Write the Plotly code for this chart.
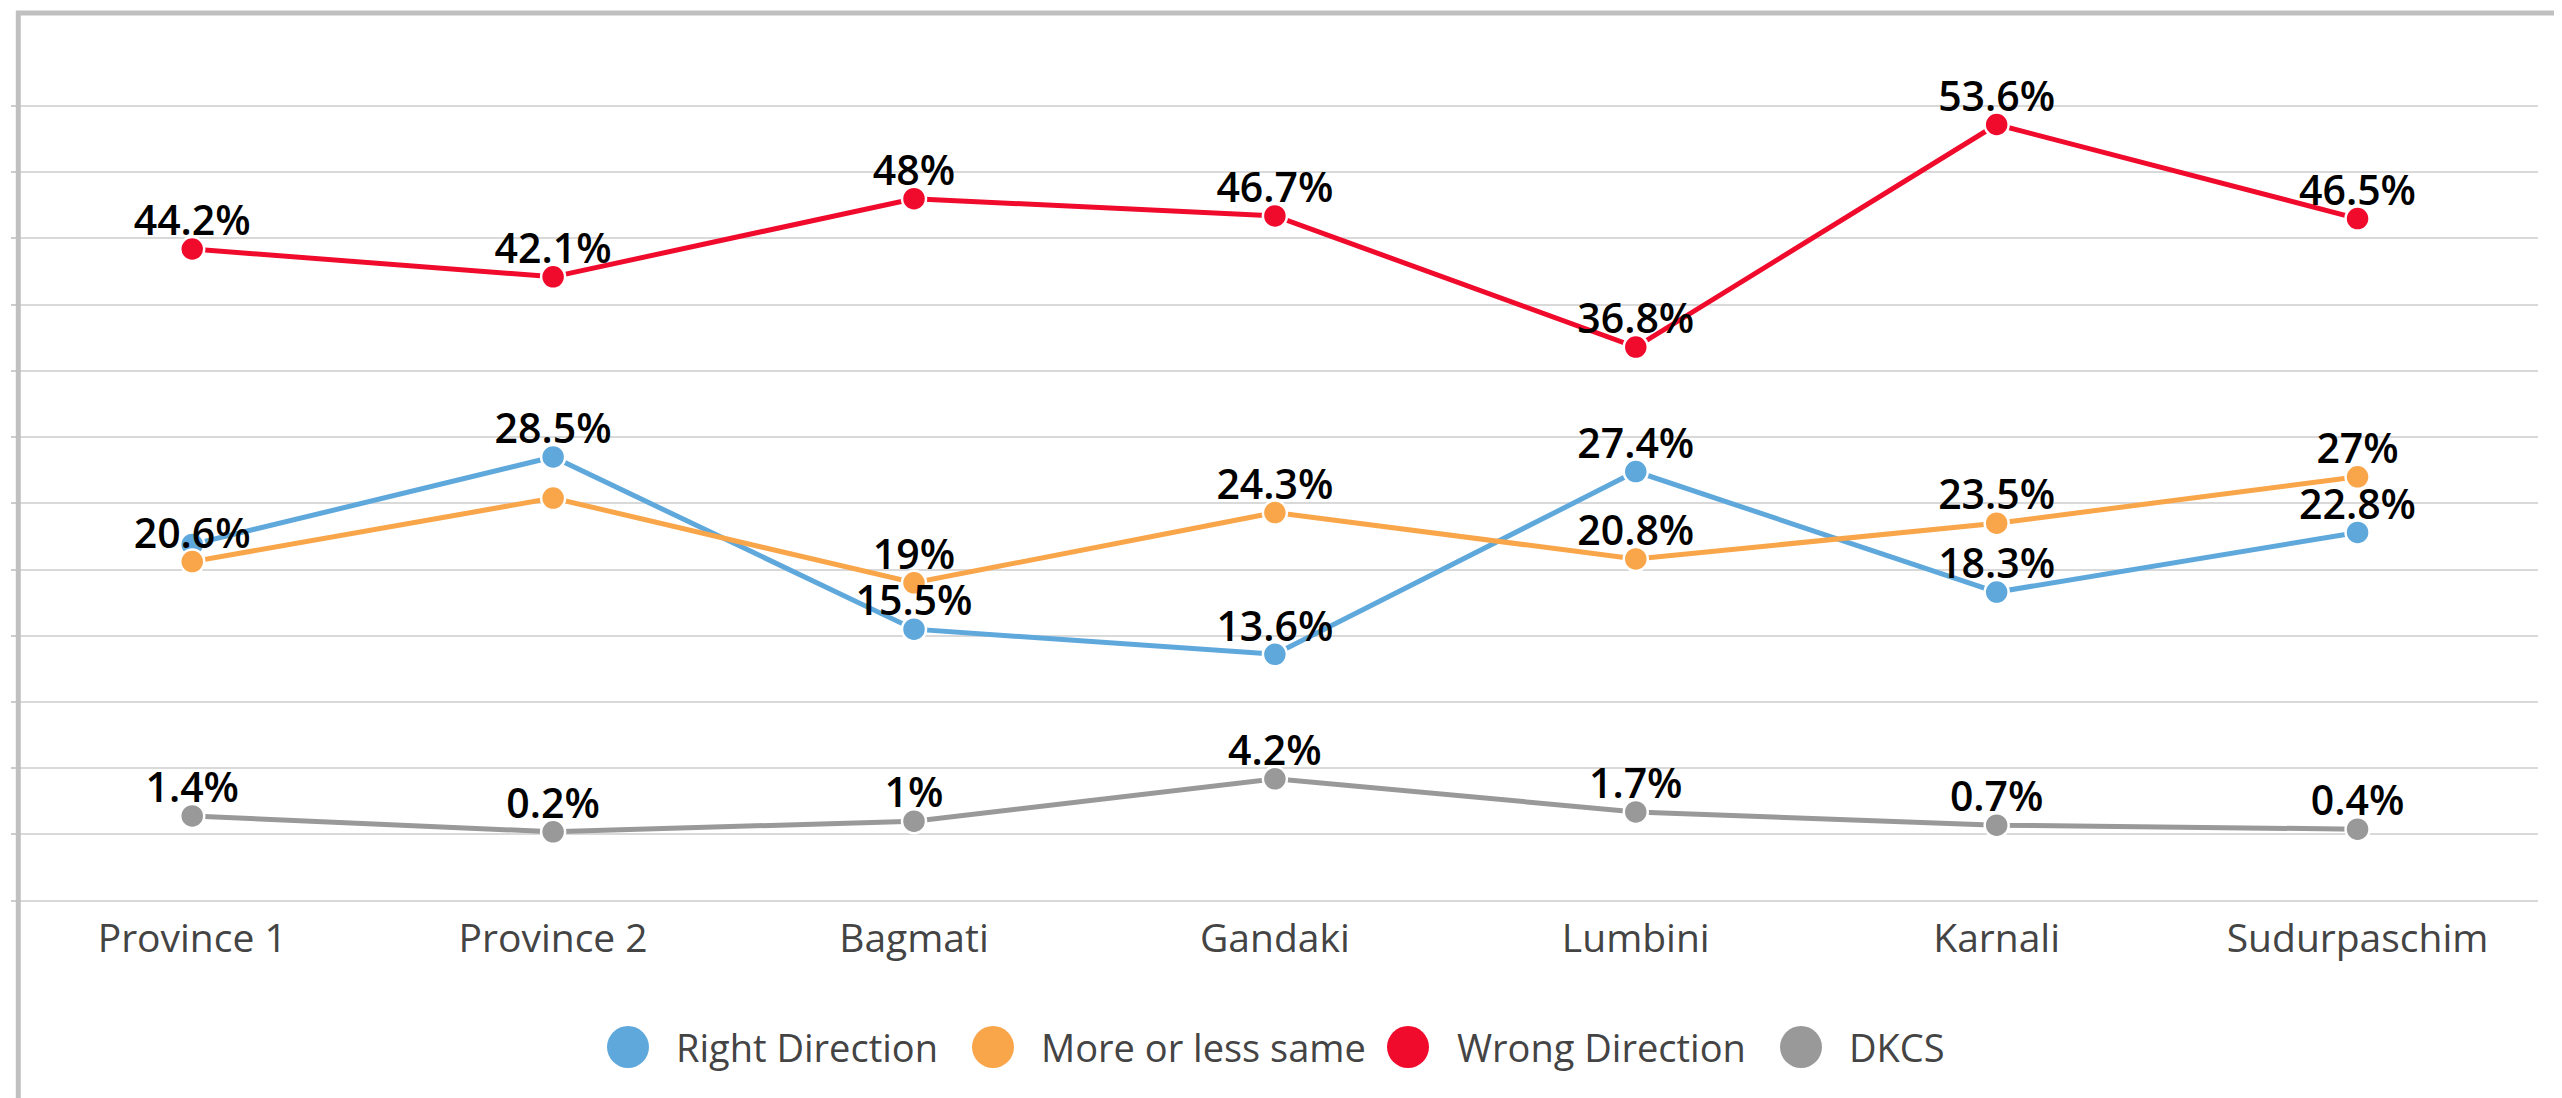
import plotly.graph_objects as go

categories = ["Province 1", "Province 2", "Bagmati", "Gandaki", "Lumbini", "Karnali", "Sudurpaschim"]
right_direction = [21.9, 28.5, 15.5, 13.6, 27.4, 18.3, 22.8]
more_or_less_same = [20.6, 25.4, 19, 24.3, 20.8, 23.5, 27]
wrong_direction = [44.2, 42.1, 48, 46.7, 36.8, 53.6, 46.5]
dkcs = [1.4, 0.2, 1, 4.2, 1.7, 0.7, 0.4]

# which data labels are shown (overlapping labels are hidden in the original)
show_right = [False, True, True, True, True, True, True]
show_more = [True, False, True, True, True, True, True]
show_wrong = [True] * 7
show_dkcs = [True] * 7

series_names = ["Right Direction", "More or less same", "Wrong Direction", "DKCS"]
series_colors = ["#5FA8DC", "#F9A54A", "#F00A2C", "#999999"]
series_values = [right_direction, more_or_less_same, wrong_direction, dkcs]
series_show = [show_right, show_more, show_wrong, show_dkcs]

FONT = "Open Sans"

fig = go.Figure()

for name, color, vals in zip(series_names, series_colors, series_values):
    fig.add_trace(go.Scatter(
        x=categories, y=vals, name=name, mode="lines+markers",
        line=dict(color=color, width=5),
        marker=dict(size=24, color=color, line=dict(color="white", width=2.5)),
        showlegend=False, cliponaxis=False,
    ))

for vals, shows in zip(series_values, series_show):
    labels = [f"{v:g}%" if s else "" for v, s in zip(vals, shows)]
    fig.add_trace(go.Scatter(
        x=categories, y=vals, mode="markers+text", text=labels,
        textposition="top center",
        textfont=dict(family=FONT, size=41, color="#000000", weight=600),
        marker=dict(size=4, color="rgba(0,0,0,0)"),
        showlegend=False, hoverinfo="skip", cliponaxis=False,
    ))

# the page body adds an 8px offset; figure is sized to fill the window
OFF = 8
W, H = 2562 - OFF, 1098 - OFF
L, R, T, B = 11, 24, 45, 196
pw, ph = W - L - R, H - T - B
bottom_fig = H - B

def px_x(px):
    return (px - OFF - L) / pw

def px_y(py):
    return (bottom_fig - (py - OFF)) / ph

shapes = []
annotations = []
# custom legend
leg_circle_px = [628, 993, 1408, 1801]
leg_text_px = [674, 1039, 1455, 1847]
leg_y = px_y(1047)
for name, color, cx, tx in zip(series_names, series_colors, leg_circle_px, leg_text_px):
    shapes.append(dict(type="circle", xref="paper", yref="paper",
                       xsizemode="pixel", ysizemode="pixel",
                       xanchor=px_x(cx), yanchor=leg_y,
                       x0=-21, x1=21, y0=-21, y1=21,
                       fillcolor=color, line=dict(width=0)))
    annotations.append(dict(xref="paper", yref="paper", x=px_x(tx), y=leg_y,
                            xanchor="left", yanchor="middle", showarrow=False,
                            text=name, font=dict(family=FONT, size=38, color="#444444")))

# frame
frame_color = "#C0C0C0"
shapes.append(dict(type="line", xref="paper", yref="paper", layer="above",
                   x0=px_x(18.3), x1=px_x(18.3), y0=px_y(11), y1=-0.3,
                   line=dict(color=frame_color, width=5)))
shapes.append(dict(type="line", xref="paper", yref="paper", layer="above",
                   x0=px_x(16), x1=1.05, y0=px_y(13), y1=px_y(13),
                   line=dict(color=frame_color, width=5)))

fig.update_layout(
    width=W, height=H,
    margin=dict(l=L, r=R, t=T, b=B, pad=0, autoexpand=False),
    paper_bgcolor="white", plot_bgcolor="white",
    font=dict(family=FONT, color="#444444"),
    showlegend=False,
    shapes=shapes, annotations=annotations,
    xaxis=dict(range=[-0.48, 6.5], showgrid=False, zeroline=False, showline=False,
               ticks="", ticklabelstandoff=10, automargin=False,
               tickfont=dict(family=FONT, size=39, color="#444444")),
    yaxis=dict(range=[-5.1, 59], dtick=5, tick0=0, showgrid=True, gridcolor="#D9D9D9",
               gridwidth=2, zeroline=False, showline=False, showticklabels=False,
               automargin=False,
               ticks="outside", ticklen=7, tickwidth=2, tickcolor="#CCCCCC"),
)

fig.write_html("out.html")
